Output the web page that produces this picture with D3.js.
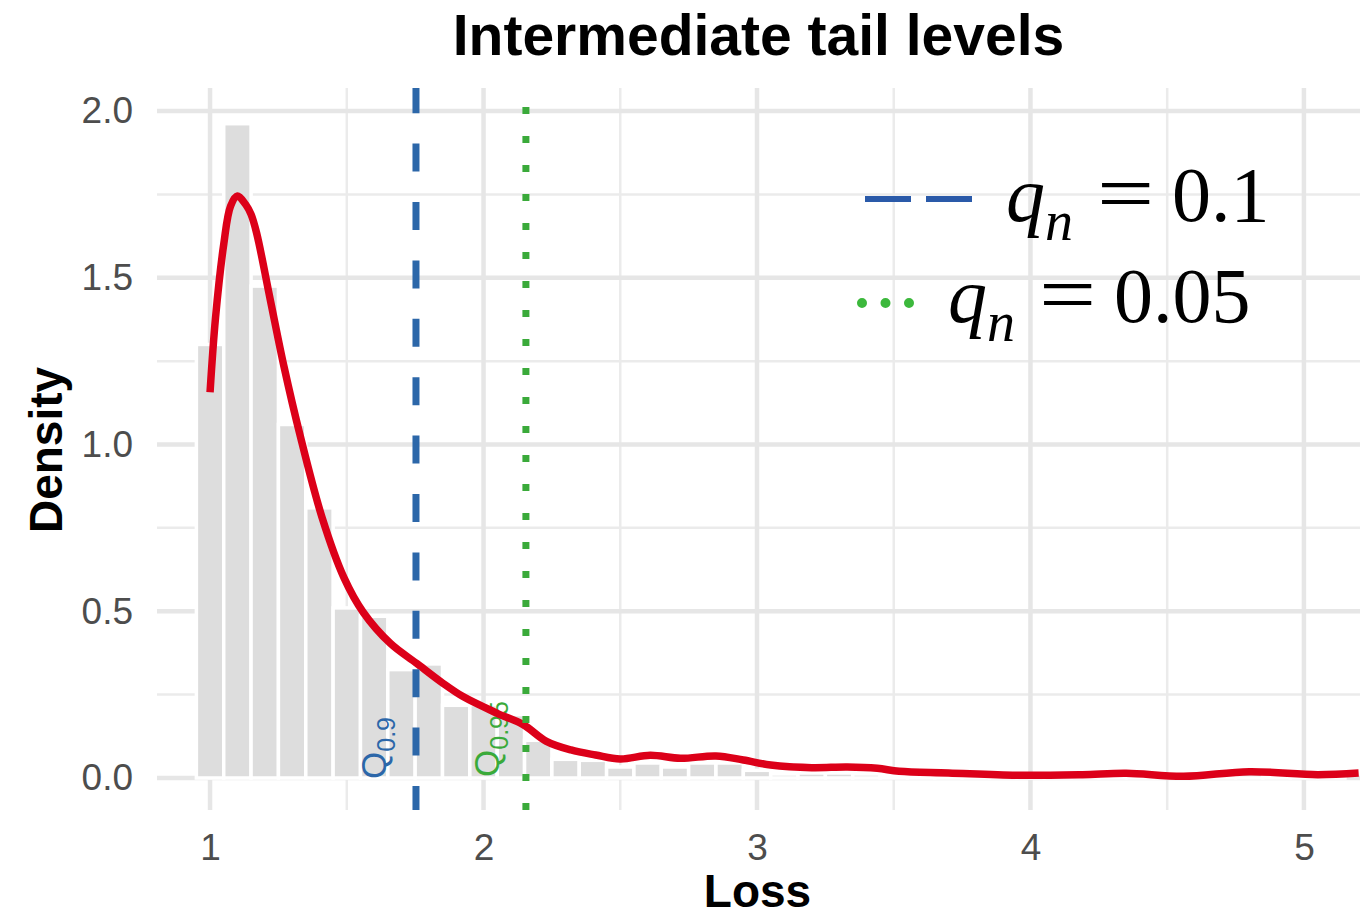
<!DOCTYPE html>
<html>
<head>
<meta charset="utf-8">
<script src="https://cdn.jsdelivr.net/npm/d3@7"></script>
<style>
  body { margin: 0; background: #fff; }
</style>
</head>
<body>
<div class="canva"></div>
<script>
// histogram bins (centre of each 0.1 wide bin) and density heights
const binMids = [1.0, 1.1, 1.2, 1.3, 1.4, 1.5, 1.6, 1.7, 1.8, 1.9, 2.0, 2.1, 2.2, 2.3, 2.4, 2.5, 2.6, 2.7, 2.8, 2.9,
                 3.0, 3.1, 3.2, 3.3, 3.4, 3.5, 3.6, 3.7, 3.8, 3.9, 4.0, 4.1, 4.2, 4.3, 4.4, 4.5, 4.6, 4.7, 4.8, 4.9, 5.0, 5.1];
const binDensity = [1.30, 1.962, 1.475, 1.06, 0.81, 0.51, 0.485, 0.325, 0.342, 0.218, 0.22, 0.19, 0.113, 0.056, 0.053, 0.033, 0.045, 0.033, 0.045, 0.045,
                    0.023, 0.012, 0.015, 0.015, 0.012, 0.01, 0.01, 0.01, 0.008, 0.006, 0.006, 0.008, 0.01, 0.012, 0.008, 0.004, 0.004, 0.01, 0.014, 0.01, 0.008, 0.01];

// kernel density estimate (red line)
const curveX = [1.0, 1.02, 1.05, 1.075, 1.1, 1.13, 1.15, 1.17, 1.22, 1.27, 1.33, 1.41, 1.49, 1.56, 1.66, 1.755, 1.85, 1.925,
                2.05, 2.145, 2.23, 2.32, 2.41, 2.5, 2.61, 2.72, 2.85, 2.95, 3.05, 3.2, 3.33, 3.44, 3.52, 3.7, 3.95, 4.19, 4.35, 4.56, 4.8, 5.05, 5.2];
const curveY = [1.157, 1.38, 1.60, 1.715, 1.745, 1.72, 1.69, 1.635, 1.435, 1.235, 1.025, 0.78, 0.60, 0.497, 0.403, 0.344, 0.285, 0.244,
                0.194, 0.16, 0.11, 0.084, 0.069, 0.057, 0.068, 0.059, 0.066, 0.054, 0.039, 0.031, 0.033, 0.029, 0.02, 0.015, 0.008, 0.01, 0.014, 0.005, 0.019, 0.01, 0.015];

// quantile lines
const quantileAt = [1.753, 2.155];
const quantileSub = ["0.9", "0.95"];
const quantileColor = ["#2c67a9", "#3aaa3a"];
const legendValue = ["0.1", "0.05"];

const xTicks = [1, 2, 3, 4, 5];
const xMinor = [1.5, 2.5, 3.5, 4.5];
const yTicks = [0, 0.5, 1.0, 1.5, 2.0];
const yMinor = [0.25, 0.75, 1.25, 1.75];

const W = 1367, H = 916;
const pLeft = 157, pRight = 1360, pTop = 88, pBottom = 810;

const svg = d3.select('.canva').append('svg')
    .attr('width', W)
    .attr('height', H)
    .style('font-family', '"Liberation Sans", Arial, sans-serif');

const x = d3.scaleLinear().domain([0.806, 5.205]).range([pLeft, pRight]);
const y = d3.scaleLinear().domain([-0.096, 2.069]).range([pBottom, pTop]);

// grid
const grid = svg.append('g');
grid.selectAll('.vmin').data(xMinor).enter().append('line')
    .attr('x1', d => x(d)).attr('x2', d => x(d))
    .attr('y1', pTop).attr('y2', pBottom)
    .attr('stroke', '#ebebeb').attr('stroke-width', 2.5);
grid.selectAll('.hmin').data(yMinor).enter().append('line')
    .attr('y1', d => y(d)).attr('y2', d => y(d))
    .attr('x1', pLeft).attr('x2', pRight)
    .attr('stroke', '#ebebeb').attr('stroke-width', 2.5);
grid.selectAll('.vmaj').data(xTicks).enter().append('line')
    .attr('x1', d => x(d)).attr('x2', d => x(d))
    .attr('y1', pTop).attr('y2', pBottom)
    .attr('stroke', '#e6e6e6').attr('stroke-width', 4.5);
grid.selectAll('.hmaj').data(yTicks).enter().append('line')
    .attr('y1', d => y(d)).attr('y2', d => y(d))
    .attr('x1', pLeft).attr('x2', pRight)
    .attr('stroke', '#e6e6e6').attr('stroke-width', 4.5);

// histogram
const bins = binMids.map((m, i) => ({mid: m, dens: binDensity[i]}));
svg.append('g').selectAll('rect')
    .data(bins)
    .enter().append('rect')
    .attr('x', d => x(d.mid - 0.05))
    .attr('width', d => x(d.mid + 0.05) - x(d.mid - 0.05))
    .attr('y', d => y(d.dens))
    .attr('height', d => y(0) - y(d.dens))
    .attr('fill', '#dddddd')
    .attr('stroke', '#ffffff')
    .attr('stroke-width', 3.5);

// Q labels (rotated)
const qOffset = [30, 27];
const qBottom = [779, 777];
quantileAt.forEach((q, i) => {
    const t = svg.append('text')
        .attr('transform', `translate(${x(q) - qOffset[i]},${qBottom[i]}) rotate(-90)`)
        .attr('fill', quantileColor[i]);
    t.append('tspan').attr('font-size', 35).text('Q');
    t.append('tspan').attr('font-size', 25).attr('dy', 9).text(quantileSub[i]);
});

// density curve
const pts = curveX.map((v, i) => [v, curveY[i]]);
const line = d3.line()
    .x(d => x(d[0]))
    .y(d => y(d[1]))
    .curve(d3.curveCatmullRom.alpha(0.5));
svg.append('path')
    .attr('d', line(pts))
    .attr('fill', 'none')
    .attr('stroke', '#dc0019')
    .attr('stroke-width', 7.5)
    .attr('stroke-linejoin', 'round');

// vertical quantile lines, drawn from bottom up like ggplot
svg.append('line')
    .attr('x1', x(quantileAt[0])).attr('x2', x(quantileAt[0]))
    .attr('y1', pBottom).attr('y2', pTop)
    .attr('stroke', quantileColor[0]).attr('stroke-width', 7)
    .attr('stroke-dasharray', '28 30.4').attr('stroke-dashoffset', 4);
svg.append('line')
    .attr('x1', x(quantileAt[1])).attr('x2', x(quantileAt[1]))
    .attr('y1', pBottom).attr('y2', pTop)
    .attr('stroke', quantileColor[1]).attr('stroke-width', 7)
    .attr('stroke-dasharray', '7 22');

// axes (labels only, theme_minimal look)
const yAxis = svg.append('g')
    .attr('transform', `translate(${pLeft},0)`)
    .call(d3.axisLeft(y).tickValues(yTicks).tickFormat(d3.format('.1f')).tickSize(0).tickPadding(24));
const xAxis = svg.append('g')
    .attr('transform', `translate(0,${pBottom})`)
    .call(d3.axisBottom(x).tickValues(xTicks).tickFormat(d3.format('d')).tickSize(0).tickPadding(24));
[yAxis, xAxis].forEach(a => {
    a.select('.domain').remove();
    a.selectAll('text')
        .attr('font-size', 37)
        .attr('fill', '#4d4d4d')
        .style('font-family', '"Liberation Sans", Arial, sans-serif');
});

// titles
svg.append('text')
    .attr('x', (pLeft + pRight) / 2).attr('y', 55)
    .attr('text-anchor', 'middle')
    .attr('font-size', 57).attr('font-weight', 'bold')
    .text('Intermediate tail levels');
svg.append('text')
    .attr('x', (pLeft + pRight) / 2 - 1).attr('y', 907)
    .attr('text-anchor', 'middle')
    .attr('font-size', 46).attr('font-weight', 'bold')
    .text('Loss');
svg.append('text')
    .attr('transform', 'translate(62,450) rotate(-90)')
    .attr('text-anchor', 'middle')
    .attr('font-size', 46).attr('font-weight', 'bold')
    .text('Density');

// legend
const leg = svg.append('g').style('font-family', '"Liberation Serif", "Times New Roman", serif');
const rowBase = [221, 322];
const textStart = [1006, 948];

// key 1: dashed
leg.append('line')
    .attr('x1', 865).attr('x2', 972)
    .attr('y1', 199).attr('y2', 199)
    .attr('stroke', '#2a5aa9').attr('stroke-width', 6)
    .attr('stroke-dasharray', '46 15');
// key 2: dotted
leg.append('line')
    .attr('x1', 862).attr('x2', 910)
    .attr('y1', 303).attr('y2', 303)
    .attr('stroke', '#3cb83c').attr('stroke-width', 10)
    .attr('stroke-linecap', 'round')
    .attr('stroke-dasharray', '0 23.5');

legendValue.forEach((v, i) => {
    const x0 = textStart[i];
    const t = leg.append('text').attr('y', rowBase[i]).attr('fill', '#000');
    t.append('tspan').attr('x', x0).attr('font-size', 78).attr('font-style', 'italic').text('q');
    t.append('tspan').attr('x', x0 + 39).attr('dy', 19).attr('font-size', 56).attr('font-style', 'italic').text('n');
    t.append('tspan').attr('x', x0 + 166).attr('dy', -19).attr('font-size', 78).text(v);
    // wider equals sign as in plotmath
    leg.append('text')
        .attr('transform', `translate(${x0 + 91},${rowBase[i]}) scale(1.3,1.05)`)
        .attr('font-size', 78)
        .attr('fill', '#000')
        .text('=');
});
</script>
</body>
</html>
